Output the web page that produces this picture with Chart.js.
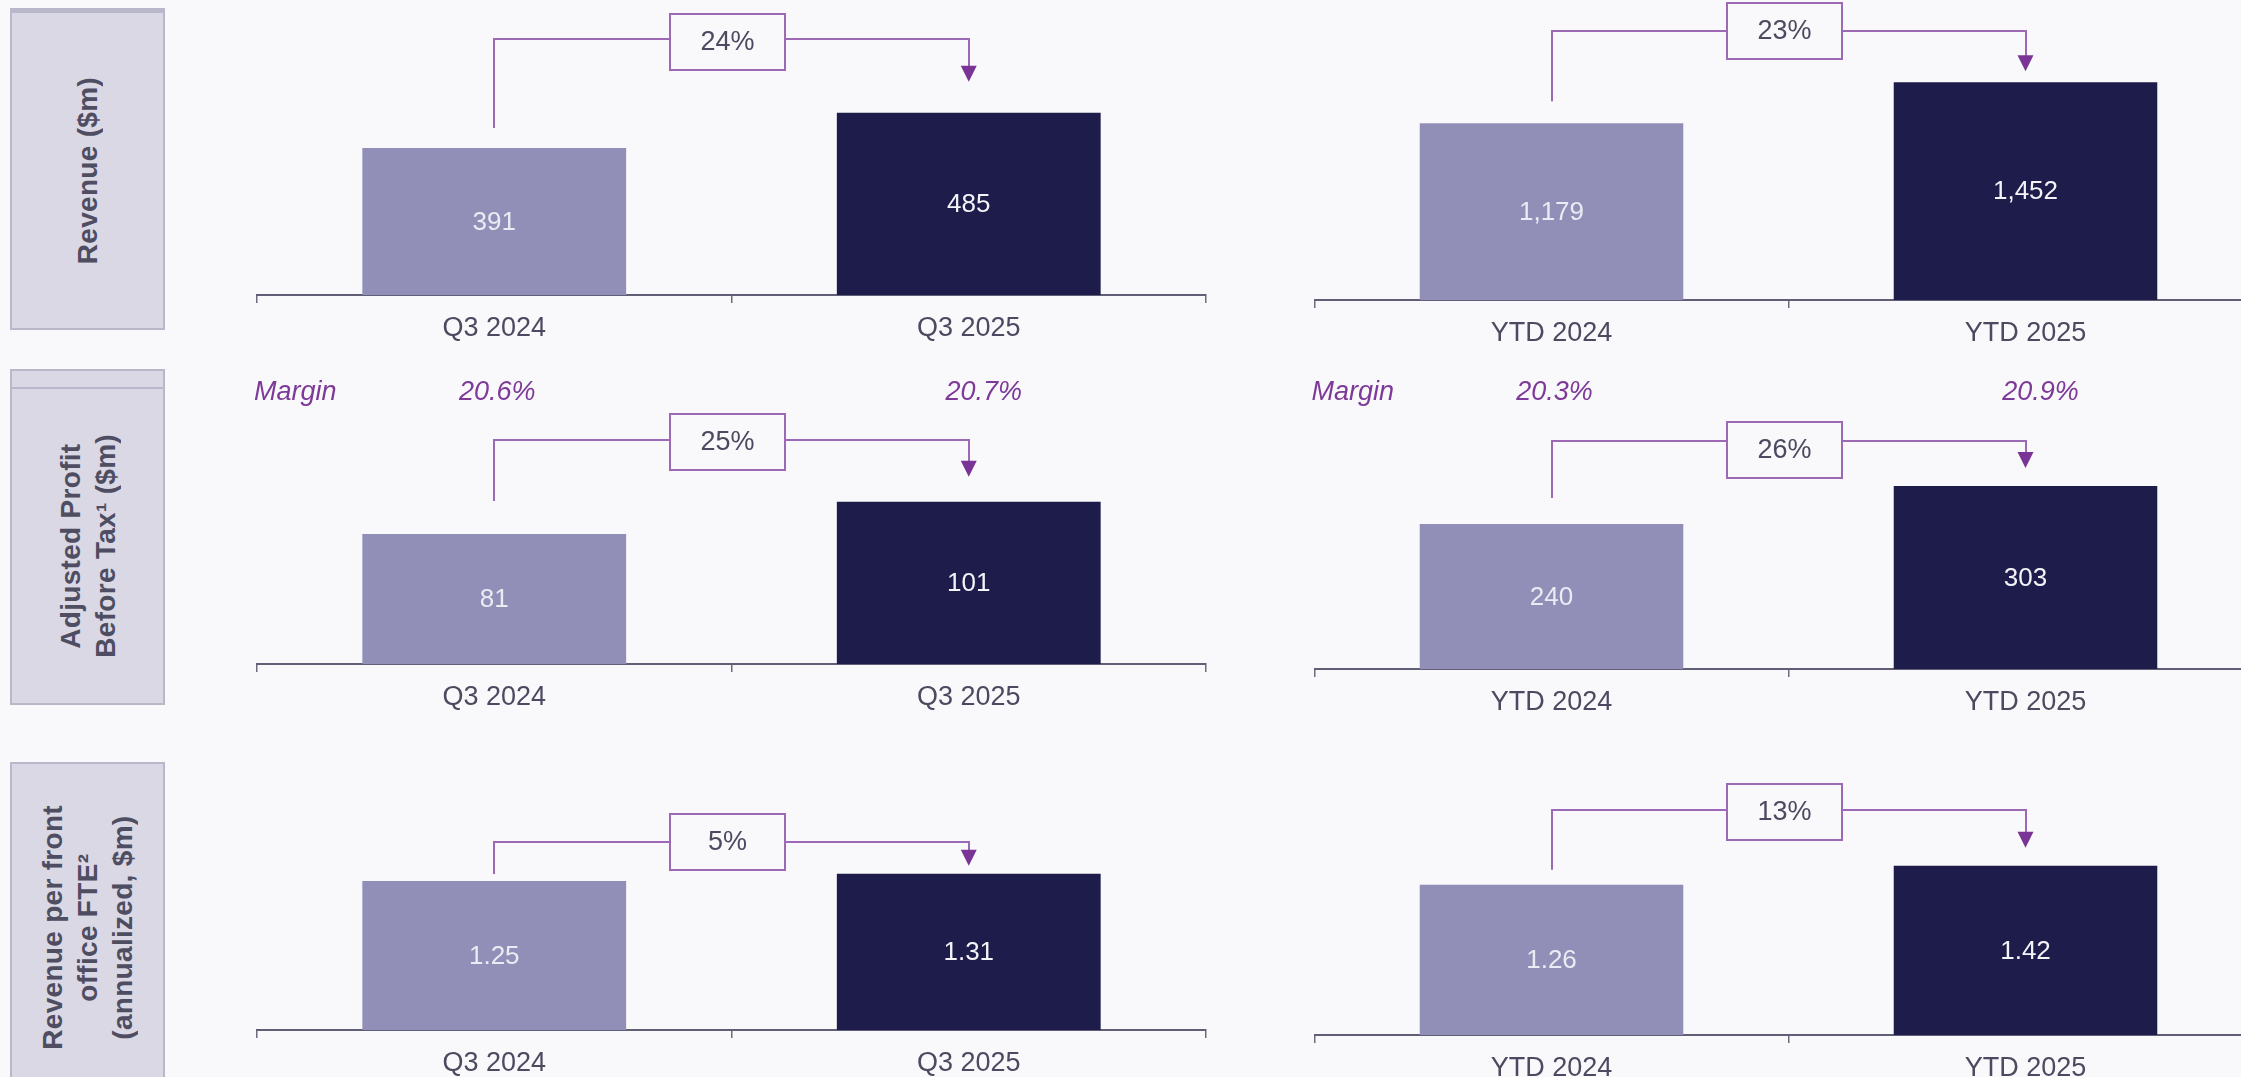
<!DOCTYPE html>
<html>
<head>
<meta charset="utf-8">
<script src="https://cdn.jsdelivr.net/npm/chart.js@4.4.1/dist/chart.umd.min.js"></script>
<style>
html,body{margin:0;padding:0;background:#f9f9fb;width:2241px;height:1077px;overflow:hidden;position:relative;font-family:"Liberation Sans",Arial,sans-serif;}
canvas{position:absolute;}
.lbl{position:absolute;left:10px;width:155px;background:#d9d8e4;border:2px solid #b9b8ca;box-sizing:border-box;display:flex;align-items:center;justify-content:center;}
.lbl span{writing-mode:vertical-rl;transform:rotate(180deg);font-weight:bold;font-size:28px;line-height:35px;color:#4e4d62;text-align:center;letter-spacing:0.3px;white-space:nowrap;}
#lb1{top:8px;height:322px;border-top-width:5px;}
#lb2{top:369px;height:336px;padding-top:18px;}
#lb2 .band{position:absolute;left:0;right:0;top:0;height:16px;border-bottom:2px solid #b9b8ca;}
#lb3{top:762px;height:330px;}
</style>
</head>
<body>
<div class="lbl" id="lb1"><span>Revenue ($m)</span></div>
<div class="lbl" id="lb2"><div class="band"></div><span>Adjusted Profit<br>Before Tax¹ ($m)</span></div>
<div class="lbl" id="lb3"><span>Revenue per front<br>office FTE²<br>(annualized, $m)</span></div>

<script>
// ---------- data ----------
const categoriesQ = ['Q3 2024', 'Q3 2025'];
const categoriesYTD = ['YTD 2024', 'YTD 2025'];
const revenueQ = [391, 485];
const revenueYTD = [1179, 1452];
const profitQ = [81, 101];
const profitYTD = [240, 303];
const fteQ = [1.25, 1.31];
const fteYTD = [1.26, 1.42];
const growthRevenue = ['24%', '23%'];   // Q, YTD
const growthProfit = ['25%', '26%'];
const growthFte = ['5%', '13%'];
const marginQ = ['20.6%', '20.7%'];
const marginYTD = ['20.3%', '20.9%'];
const marginLabel = 'Margin';

// ---------- styles ----------
const FONT = '"Liberation Sans", Arial, sans-serif';
const BG = '#f9f9fb';
const BAR_COLORS = ['#918fb8', '#1e1c4a'];
const VALUE_COLORS = ['#ebebf3', '#f3f3f8'];
const LINE_COLOR = '#9c69b7';
const ARROW_COLOR = '#7a3495';
const TEXT_COLOR = '#4b4a60';
const MARGIN_COLOR = '#7d3a98';
const MARGIN_DX = [3, 15];

const fmtInt = v => v.toLocaleString('en-US');
const fmt2 = v => v.toFixed(2);

const LEFT = {canvasLeft: 200, width: 1060, axisLeft: 257, axisRight: 1206};
const RIGHT = {canvasLeft: 1260, width: 1060, axisLeft: 1314.5, axisRight: 2262.5};
const ROWS = [{top: 0, height: 355}, {top: 355, height: 370}, {top: 725, height: 352}];

const panels = [
  {col: LEFT,  row: 0, labels: categoriesQ,   values: revenueQ,   growth: growthRevenue[0], fmt: fmtInt, yMax: 785,  areaTop: 0,   axisY: 295,  lineAbove: 74, startGap: 20, tipGap: 31, boxDy: 3},
  {col: RIGHT, row: 0, labels: categoriesYTD, values: revenueYTD, growth: growthRevenue[1], fmt: fmtInt, yMax: 2000, areaTop: 0,   axisY: 300,  lineAbove: 51, startGap: 22, tipGap: 11, boxDy: 0},
  {col: LEFT,  row: 1, labels: categoriesQ,   values: profitQ,    growth: growthProfit[0],  fmt: fmtInt, yMax: 180,  areaTop: 375, axisY: 664,  lineAbove: 62, startGap: 33, tipGap: 25, boxDy: 2, margins: marginQ},
  {col: RIGHT, row: 1, labels: categoriesYTD, values: profitYTD,  growth: growthProfit[1],  fmt: fmtInt, yMax: 480,  areaTop: 379, axisY: 669,  lineAbove: 45, startGap: 26, tipGap: 18, boxDy: 9, margins: marginYTD},
  {col: LEFT,  row: 2, labels: categoriesQ,   values: fteQ,       growth: growthFte[0],     fmt: fmt2,   yMax: 2.5,  areaTop: 732, axisY: 1030, lineAbove: 32, startGap: 7,  tipGap: 8,  boxDy: 0},
  {col: RIGHT, row: 2, labels: categoriesYTD, values: fteYTD,     growth: growthFte[1],     fmt: fmt2,   yMax: 2.5,  areaTop: 737, axisY: 1035, lineAbove: 56, startGap: 15, tipGap: 18, boxDy: 2}
];
const MARGIN_Y = 392;

Chart.defaults.font.family = FONT;

function makePlugin(p, canvasTop) {
  return {
    id: 'annot',
    afterDatasetsDraw(chart) {
      const ctx = chart.ctx;
      const bars = chart.getDatasetMeta(0).data;
      const b1 = bars[0], b2 = bars[1];
      ctx.save();
      // value labels
      ctx.font = '26px ' + FONT;
      ctx.textAlign = 'center';
      ctx.textBaseline = 'middle';
      bars.forEach((b, i) => {
        ctx.fillStyle = VALUE_COLORS[i];
        ctx.fillText(p.fmt(p.values[i]), b.x, (b.y + b.base) / 2 + 1);
      });
      // connector
      const topMost = Math.min(b1.y, b2.y);
      const lineY = Math.round(topMost - p.lineAbove);
      const boxW = 115, boxH = 56;
      const cx = (b1.x + b2.x) / 2 - 4.5;
      const cy = lineY + p.boxDy;
      const bx = Math.round(cx - boxW / 2), by = Math.round(cy - boxH / 2);
      const tipY = b2.y - p.tipGap;
      ctx.strokeStyle = LINE_COLOR;
      ctx.lineWidth = 2;
      ctx.beginPath();
      ctx.moveTo(Math.round(b1.x), b1.y - p.startGap);
      ctx.lineTo(Math.round(b1.x), lineY);
      ctx.lineTo(bx, lineY);
      ctx.moveTo(bx + boxW, lineY);
      ctx.lineTo(Math.round(b2.x), lineY);
      ctx.lineTo(Math.round(b2.x), tipY - 14);
      ctx.stroke();
      ctx.fillStyle = BG;
      ctx.fillRect(bx, by, boxW, boxH);
      ctx.strokeRect(bx, by, boxW, boxH);
      ctx.fillStyle = ARROW_COLOR;
      ctx.beginPath();
      ctx.moveTo(b2.x - 8, tipY - 16);
      ctx.lineTo(b2.x + 8, tipY - 16);
      ctx.lineTo(b2.x, tipY);
      ctx.closePath();
      ctx.fill();
      ctx.fillStyle = TEXT_COLOR;
      ctx.font = '27px ' + FONT;
      ctx.fillText(p.growth, bx + boxW / 2, by + boxH / 2 + 1);
      // margins
      if (p.margins) {
        const my = MARGIN_Y - canvasTop;
        ctx.fillStyle = MARGIN_COLOR;
        ctx.font = 'italic 27px ' + FONT;
        ctx.textAlign = 'left';
        ctx.fillText(marginLabel, chart.chartArea.left - 3, my);
        ctx.textAlign = 'center';
        p.margins.forEach((m, i) => ctx.fillText(m, bars[i].x + MARGIN_DX[i], my));
      }
      ctx.restore();
    }
  };
}

panels.forEach((p) => {
  const row = ROWS[p.row];
  const cv = document.createElement('canvas');
  cv.width = p.col.width;
  cv.height = row.height;
  cv.style.left = p.col.canvasLeft + 'px';
  cv.style.top = row.top + 'px';
  cv.style.width = p.col.width + 'px';
  cv.style.height = row.height + 'px';
  document.body.appendChild(cv);
  const xh = row.top + row.height - p.axisY;
  new Chart(cv.getContext('2d'), {
    type: 'bar',
    data: {
      labels: p.labels,
      datasets: [{
        data: p.values,
        backgroundColor: BAR_COLORS,
        borderWidth: 0,
        barPercentage: 0.556,
        categoryPercentage: 1
      }]
    },
    options: {
      responsive: false,
      devicePixelRatio: 1,
      animation: false,
      layout: {
        padding: {
          top: p.areaTop - row.top,
          bottom: 0,
          left: p.col.axisLeft - p.col.canvasLeft,
          right: p.col.canvasLeft + p.col.width - p.col.axisRight
        }
      },
      plugins: {legend: {display: false}, tooltip: {enabled: false}, title: {display: false}},
      scales: {
        x: {
          grid: {display: true, drawOnChartArea: false, drawTicks: true, tickLength: 8, offset: true, color: '#6d6c80', lineWidth: 1.5},
          border: {display: true, color: '#615f75', width: 2},
          ticks: {color: TEXT_COLOR, font: {size: 27, family: FONT}, padding: 9, maxRotation: 0, autoSkip: false},
          afterFit(scale) { scale.height = xh; }
        },
        y: {display: false, min: 0, max: p.yMax}
      }
    },
    plugins: [makePlugin(p, row.top)]
  });
});
</script>
</body>
</html>
